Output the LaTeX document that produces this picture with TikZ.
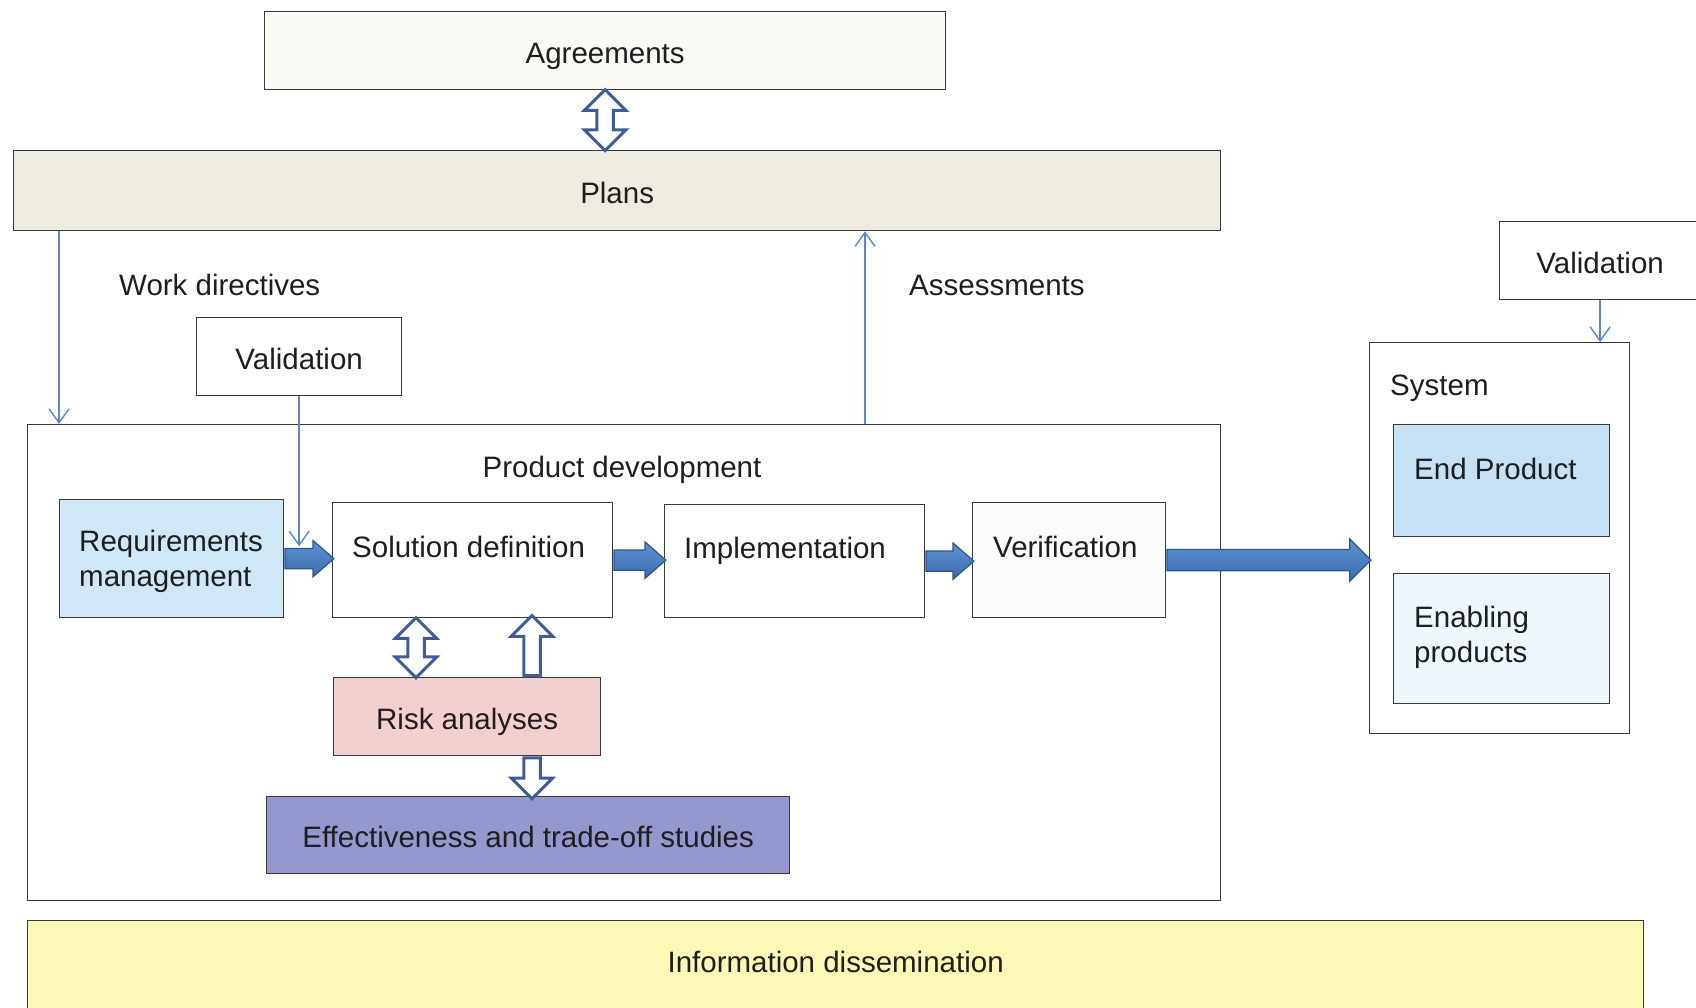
\documentclass[tikz,border=0pt]{standalone}
\usepackage{fontspec}
\setmainfont{Liberation Sans}
\usetikzlibrary{arrows.meta,shapes.arrows,calc}

\definecolor{boxline}{HTML}{3A3A3A}
\definecolor{textcol}{HTML}{1E1E1E}
\definecolor{agrfill}{HTML}{FBFAF5}
\definecolor{plansfill}{HTML}{EEECE0}
\definecolor{reqfill}{HTML}{D0E7F5}
\definecolor{verfill}{HTML}{FDFBFB}
\definecolor{riskfill}{HTML}{F3D0D0}
\definecolor{efffill}{HTML}{9597CF}
\definecolor{endfill}{HTML}{C5E1F3}
\definecolor{enabfill}{HTML}{EEF7FC}
\definecolor{infofill}{HTML}{FBF9B5}
\definecolor{thinblue}{HTML}{5A8AC6}
\definecolor{fatedge}{HTML}{2F5590}
\definecolor{fattop}{HTML}{5F93D3}
\definecolor{fatbottom}{HTML}{3C6CAE}
\definecolor{hollowedge}{HTML}{3F5E98}

\begin{document}
\begin{tikzpicture}[x=1pt,y=-1pt,
  every node/.style={font=\fontsize{29.5}{34.6}\selectfont, text=textcol},
  box/.style={draw=boxline, line width=1.3pt, inner sep=0pt, anchor=north west},
  ctext/.style={text height=31pt, text depth=6pt},
  rtext/.style={text height=21pt, text depth=11pt},
  lbl/.style={inner sep=0pt, align=left},
  thinarrow/.style={draw=thinblue, line width=1.4pt,
    -{Straight Barb[length=14pt,width=20pt,line width=1.4pt]}},
  fatarrow/.style={single arrow, draw=fatedge, line width=1.2pt,
    top color=fattop, bottom color=fatbottom,
    inner xsep=0pt, inner ysep=9.5pt, single arrow head extend=8pt,
    single arrow tip angle=82, minimum width=0pt, anchor=tail},
  hollowtwo/.style={double arrow, draw=hollowedge, fill=white, line width=3pt,
    inner xsep=0pt, inner ysep=6.75pt, double arrow head extend=12.5pt,
    double arrow tip angle=90, minimum width=0pt},
  hollowone/.style={single arrow, draw=hollowedge, fill=white, line width=3pt,
    inner xsep=0pt, inner ysep=6.75pt, single arrow head extend=12.5pt,
    single arrow tip angle=90, minimum width=0pt, anchor=tail},
]
\useasboundingbox (0,0) rectangle (1696,1007);

% top level: agreements and plans
\node[box, ctext, fill=agrfill, minimum width=681pt, minimum height=78pt] (agr) at (264,11) {Agreements};
\node[box, ctext, fill=plansfill, minimum width=1207pt, minimum height=80pt] (plans) at (13,150) {Plans};

% product development frame
\node[box, fill=white, minimum width=1193pt, minimum height=476pt] (pd) at (27,424) {};
\node[lbl] (pdtxt) at ([xshift=595pt,yshift=-46pt]pd.north west) {Product development};

% left validation
\node[box, ctext, fill=white, minimum width=205pt, minimum height=78pt] (valL) at (196,317) {Validation};

% process chain
\node[box, fill=reqfill, minimum width=224pt, minimum height=118pt] (req) at (59,499) {};
\node[lbl, anchor=west] (reqtxt) at ([xshift=20pt,yshift=-3pt]req.west) {Requirements\\management};
\node[box, fill=white, minimum width=280pt, minimum height=115pt] (sol) at (332,502) {};
\node[lbl, anchor=west] (soltxt) at ([xshift=20pt,yshift=13pt]sol.west) {Solution definition};
\node[box, fill=white, minimum width=260pt, minimum height=113pt] (impl) at (664,504) {};
\node[lbl, anchor=west] (impltxt) at ([xshift=20pt,yshift=10pt]impl.west) {Implementation};
\node[box, fill=verfill, minimum width=193pt, minimum height=115pt] (ver) at (972,502) {};
\node[lbl, anchor=west] (vertxt) at ([xshift=21pt,yshift=13pt]ver.west) {Verification};

\node[box, ctext, fill=riskfill, minimum width=267pt, minimum height=78pt] (risk) at (333,677) {Risk analyses};
\node[box, ctext, fill=efffill, minimum width=523pt, minimum height=77pt] (eff) at (266,796) {Effectiveness and trade-off studies};

% system
\node[box, ctext, fill=white, minimum width=201pt, minimum height=78pt] (valR) at (1499,221) {Validation};
\node[box, fill=white, minimum width=260pt, minimum height=391pt] (sys) at (1369,342) {};
\node[lbl, anchor=west] (systxt) at ([xshift=21pt,yshift=-46pt]sys.north west) {System};
\node[box, fill=endfill, minimum width=216pt, minimum height=112pt] (endp) at (1393,424) {};
\node[lbl, anchor=west] (endtxt) at ([xshift=21pt,yshift=12pt]endp.west) {End Product};
\node[box, fill=enabfill, minimum width=216pt, minimum height=130pt] (enab) at (1393,573) {};
\node[lbl, anchor=west] (enabtxt) at ([xshift=21pt,yshift=1pt]enab.west) {Enabling\\products};

% information dissemination
\node[box, rtext, fill=infofill, minimum width=1616pt, minimum height=94pt] (info) at (27,920) {Information dissemination};

% flow labels
\node[lbl, anchor=west] (wdtxt) at ([xshift=106pt,yshift=-54pt]plans.south west) {Work directives};
\node[lbl, anchor=west] (astxt) at ([xshift=896pt,yshift=-54pt]plans.south west) {Assessments};

% thin connectors
\coordinate (wdtop) at ([xshift=46pt]plans.south west);
\draw[thinarrow] (wdtop) -- (wdtop |- pd.north);
\coordinate (asbot) at ([xshift=838pt]pd.north west);
\draw[thinarrow] (asbot) -- (asbot |- plans.south);
\coordinate (valLend) at ([yshift=-150pt]valL.south);
\draw[thinarrow] (valL.south) -- (valLend);
\coordinate (valRfoot) at (sys.north -| valR.south);
\draw[thinarrow] (valR.south) -- (valRfoot);

% filled flow arrows
\node[fatarrow, minimum height=49pt] (a1) at (req.east) {};
\node[fatarrow, minimum height=52pt] (a2) at (sol.east) {};
\node[fatarrow, minimum height=48pt] (a3) at (impl.east) {};
\node[fatarrow, minimum height=204pt, inner ysep=10pt, single arrow head extend=10.5pt,
      single arrow tip angle=90] (a4) at (ver.east) {};

% hollow arrows
\node[hollowtwo, rotate=90, minimum height=61pt] (h1) at ($(agr.south)!0.5!(agr.south |- plans.north)$) {};
\coordinate (sr1) at ([xshift=84pt]sol.south west);
\coordinate (sr2) at ([xshift=200pt]sol.south west);
\node[hollowtwo, rotate=90, minimum height=60pt] (h2) at ($(sr1)!0.5!(sr1 |- risk.north)$) {};
\node[hollowone, rotate=90, minimum height=60pt] (h3) at (sr2 |- risk.north) {};
\node[hollowone, rotate=-90, minimum height=41pt] (h4) at (sr2 |- risk.south) {};
\end{tikzpicture}
\end{document}
